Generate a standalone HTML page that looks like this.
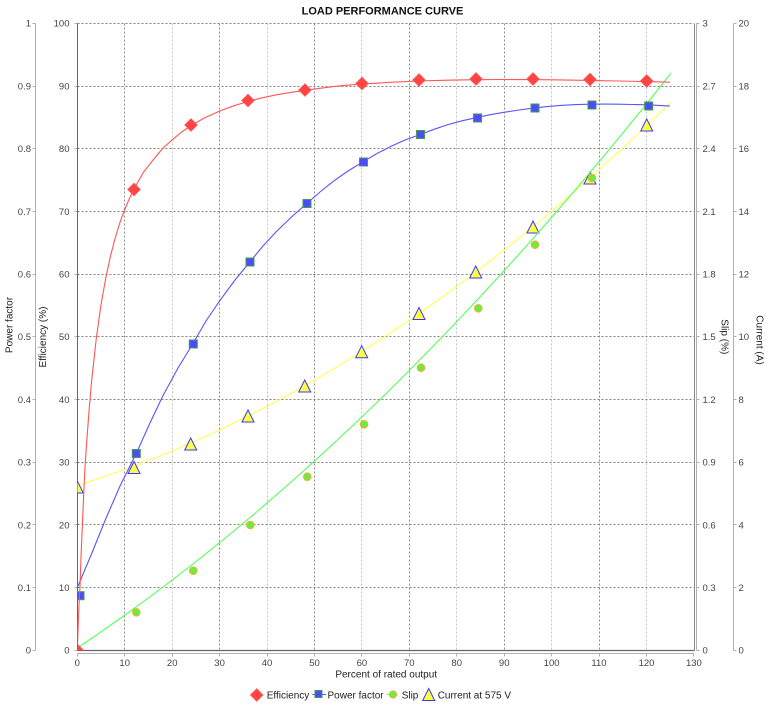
<!DOCTYPE html>
<html><head><meta charset="utf-8"><style>
html,body{margin:0;padding:0;background:#fff;}
svg{display:block;}
text{font-family:"Liberation Sans",sans-serif;}
</style></head><body>
<svg width="773" height="707" viewBox="0 0 773 707" xmlns="http://www.w3.org/2000/svg">
<defs><clipPath id="pc"><rect x="77.5" y="23.5" width="617" height="627"/></clipPath></defs>
<rect width="773" height="707" fill="#fff"/>
<text x="382.5" y="14.5" font-size="11" font-weight="bold" text-anchor="middle" fill="#111">LOAD PERFORMANCE CURVE</text>

<!-- vertical grid -->
<g stroke-width="1" stroke-dasharray="2,2" fill="none">
<path d="M124.5,23.5V650 M219.5,23.5V650 M314.5,23.5V650 M409.5,23.5V650 M504.5,23.5V650 M599.5,23.5V650" stroke="#8c8c8c"/>
<path d="M172.5,23.5V650 M267.5,23.5V650 M361.5,23.5V650 M456.5,23.5V650 M551.5,23.5V650 M646.5,23.5V650" stroke="#c4c4c4"/>
<path d="M77.5,23.5H694 M77.5,86.5H694 M77.5,148.5H694 M77.5,211.5H694 M77.5,274.5H694 M77.5,336.5H694 M77.5,399.5H694 M77.5,462.5H694 M77.5,524.5H694 M77.5,587.5H694" stroke="#808080"/>
</g>
<!-- plot border -->
<path d="M77.5,23.5V650.5" stroke="#666" stroke-width="1"/>
<path d="M694.5,23.5V650.5" stroke="#888" stroke-width="1"/>
<path d="M77.5,650.5H694.5" stroke="#666" stroke-width="1.2"/>

<!-- axes lines -->
<g stroke="#b0b0b0" stroke-width="1" fill="none">
<path d="M35.5,23.3V650.3"/>
<path d="M696.5,23.3V650.3"/>
<path d="M733.5,23.3V650.3"/>
<path d="M77.3,653.5H694"/>
<!-- ticks left PF -->
<path d="M32.5,23.5H35.5 M32.5,86.5H35.5 M32.5,148.5H35.5 M32.5,211.5H35.5 M32.5,274.5H35.5 M32.5,336.5H35.5 M32.5,399.5H35.5 M32.5,462.5H35.5 M32.5,524.5H35.5 M32.5,587.5H35.5 M32.5,650.5H35.5"/>
<path d="M74.5,23.5H77 M74.5,86.5H77 M74.5,148.5H77 M74.5,211.5H77 M74.5,274.5H77 M74.5,336.5H77 M74.5,399.5H77 M74.5,462.5H77 M74.5,524.5H77 M74.5,587.5H77 M74.5,650.5H77"/>
<path d="M696.5,23.5H699.5 M696.5,86.5H699.5 M696.5,148.5H699.5 M696.5,211.5H699.5 M696.5,274.5H699.5 M696.5,336.5H699.5 M696.5,399.5H699.5 M696.5,462.5H699.5 M696.5,524.5H699.5 M696.5,587.5H699.5 M696.5,650.5H699.5"/>
<path d="M733.5,23.5H736.5 M733.5,86.5H736.5 M733.5,148.5H736.5 M733.5,211.5H736.5 M733.5,274.5H736.5 M733.5,336.5H736.5 M733.5,399.5H736.5 M733.5,462.5H736.5 M733.5,524.5H736.5 M733.5,587.5H736.5 M733.5,650.5H736.5"/>
<path d="M77.5,653.5V656.5 M124.5,653.5V656.5 M172.5,653.5V656.5 M219.5,653.5V656.5 M267.5,653.5V656.5 M314.5,653.5V656.5 M361.5,653.5V656.5 M409.5,653.5V656.5 M456.5,653.5V656.5 M504.5,653.5V656.5 M551.5,653.5V656.5 M599.5,653.5V656.5 M646.5,653.5V656.5 M693.5,653.5V656.5"/>
</g>

<!-- tick labels -->
<g font-size="9.5" fill="#444">
<g text-anchor="end">
<text x="31" y="26.7">1</text><text x="31" y="89.4">0.9</text><text x="31" y="152.1">0.8</text><text x="31" y="214.8">0.7</text><text x="31" y="277.5">0.6</text><text x="31" y="340.2">0.5</text><text x="31" y="402.9">0.4</text><text x="31" y="465.6">0.3</text><text x="31" y="528.3">0.2</text><text x="31" y="591">0.1</text><text x="31" y="653.7">0</text>
<text x="69.5" y="26.7">100</text><text x="69.5" y="89.4">90</text><text x="69.5" y="152.1">80</text><text x="69.5" y="214.8">70</text><text x="69.5" y="277.5">60</text><text x="69.5" y="340.2">50</text><text x="69.5" y="402.9">40</text><text x="69.5" y="465.6">30</text><text x="69.5" y="528.3">20</text><text x="69.5" y="591">10</text><text x="69.5" y="653.7">0</text>
</g>
<g text-anchor="start">
<text x="702.5" y="26.7">3</text><text x="702.5" y="89.4">2.7</text><text x="702.5" y="152.1">2.4</text><text x="702.5" y="214.8">2.1</text><text x="702.5" y="277.5">1.8</text><text x="702.5" y="340.2">1.5</text><text x="702.5" y="402.9">1.2</text><text x="702.5" y="465.6">0.9</text><text x="702.5" y="528.3">0.6</text><text x="702.5" y="591">0.3</text><text x="702.5" y="653.7">0</text>
<text x="738.5" y="26.7">20</text><text x="738.5" y="89.4">18</text><text x="738.5" y="152.1">16</text><text x="738.5" y="214.8">14</text><text x="738.5" y="277.5">12</text><text x="738.5" y="340.2">10</text><text x="738.5" y="402.9">8</text><text x="738.5" y="465.6">6</text><text x="738.5" y="528.3">4</text><text x="738.5" y="591">2</text><text x="738.5" y="653.7">0</text>
</g>
<g text-anchor="middle">
<text x="77.3" y="666">0</text><text x="124.7" y="666">10</text><text x="172.2" y="666">20</text><text x="219.6" y="666">30</text><text x="267" y="666">40</text><text x="314.5" y="666">50</text><text x="361.9" y="666">60</text><text x="409.3" y="666">70</text><text x="456.7" y="666">80</text><text x="504.2" y="666">90</text><text x="551.6" y="666">100</text><text x="599" y="666">110</text><text x="646.5" y="666">120</text><text x="693.9" y="666">130</text>
</g>
</g>

<!-- axis labels -->
<g font-size="10" fill="#222" text-anchor="middle">
<text x="386.2" y="677.5">Percent of rated output</text>
<text transform="translate(12.5,325) rotate(-90)">Power factor</text>
<text transform="translate(46.2,337) rotate(-90)">Efficiency (%)</text>
<text transform="translate(721.3,336.8) rotate(90)">Slip (%)</text>
<text transform="translate(756.3,340) rotate(90)">Current (A)</text>
</g>

<g clip-path="url(#pc)">
<!-- Current (yellow) -->
<path d="M77.3,485.5 Q374,393.5 670.7,102.3" fill="none" stroke="#ffff55" stroke-width="1.1"/>
<g fill="#ffff44" stroke="#3838ff" stroke-width="1">
<polygon points="77.3,481 83.3,493 71.3,493"/>
<polygon points="134,461.5 140,473.5 128,473.5"/>
<polygon points="190.7,438 196.7,450 184.7,450"/>
<polygon points="248,410 254,422 242,422"/>
<polygon points="304.7,380 310.7,392 298.7,392"/>
<polygon points="361.7,345.7 367.7,357.7 355.7,357.7"/>
<polygon points="419,307.5 425,319.5 413,319.5"/>
<polygon points="475.7,266 481.7,278 469.7,278"/>
<polygon points="533,221 539,233 527,233"/>
<polygon points="590,172 596,184 584,184"/>
<polygon points="646.7,119 652.7,131 640.7,131"/>
</g>
<!-- Slip (green) -->
<path d="M77.3,648 Q374,449.8 670.7,73.5" fill="none" stroke="#55ff55" stroke-width="1.1"/>
<g fill="#66ee44" stroke="#ffaa33" stroke-width="1">
<circle cx="136.3" cy="612.3" r="3.8"/>
<circle cx="193.3" cy="570.7" r="3.8"/>
<circle cx="250.3" cy="525" r="3.8"/>
<circle cx="307.3" cy="476.7" r="3.8"/>
<circle cx="364" cy="424.3" r="3.8"/>
<circle cx="421" cy="367.7" r="3.8"/>
<circle cx="478.3" cy="308.3" r="3.8"/>
<circle cx="535" cy="244.7" r="3.8"/>
<circle cx="592" cy="178" r="3.8"/>
<circle cx="648.7" cy="106" r="3.8"/>
</g>
<!-- Power factor (blue) -->
<polyline fill="none" stroke="#5555ff" stroke-width="1.1" points="77.3,587.6 91.5,554 105.7,519 120,486 136.3,453.4 149.5,424 162.6,396.4 178,368 193.2,343.1 206,321 219.5,301.1 235,280 250.1,261.6 263,246 276.4,231.5 292,216.5 307,203.3 320,192 333.3,181.3 348,171 363.8,161.3 377,153.5 390.1,146.8 405,140 420.7,134.3 434,129.3 447,124.9 462,120.8 477.6,117.3 491,114.6 503.9,112.3 519,110 534.5,107.9 547,106.6 560.8,105.4 576,104.6 591.4,104.2 604,104.1 617.7,104.2 633,104.5 648.2,104.8 669.8,106.1"/>
<g fill="#4c4cff" stroke="#4a9a4a" stroke-width="1">
<rect x="76" y="591.7" width="8" height="8"/>
<rect x="132.3" y="449.5" width="8" height="8"/>
<rect x="189.3" y="340" width="8" height="8"/>
<rect x="246" y="258" width="8" height="8"/>
<rect x="303" y="199.5" width="8" height="8"/>
<rect x="359.5" y="158" width="8" height="8"/>
<rect x="416.5" y="130.5" width="8" height="8"/>
<rect x="473.5" y="114" width="8" height="8"/>
<rect x="531" y="104" width="8" height="8"/>
<rect x="588" y="101" width="8" height="8"/>
<rect x="644.7" y="102" width="8" height="8"/>
</g>
<!-- Efficiency (red) -->
<polyline fill="none" stroke="#ff5555" stroke-width="1.1" points="77.3,650.3 78.2,625 79,605 80,586.7 81,557 82.3,526.7 83.8,492 85.3,462 86.8,440.6 89.2,408.9 91.5,382 96.3,338.4 101,304.8 105.8,277.9 110.5,256 115.2,238 119.9,222.5 124.7,209.6 129.4,198.5 134.2,188.6 143.6,172 153.1,160 162.6,148.5 172.1,139.9 181.6,132 191.1,125.5 205.3,117.5 219.5,111.1 233.7,105.8 248,101.4 262.2,97.8 276.4,94.8 290.6,92.4 304.8,90.4 319,88.4 333.3,86.6 347.5,85.2 361.7,84.1 390,82.3 418.6,81 447,80.2 475.5,79.7 504,79.5 532.3,79.6 561,79.9 589.2,80.4 618,81 646.1,81.6 669.8,82.2"/>
<g fill="#ff4444" stroke="#ff5c5c" stroke-width="0.8">
<polygon points="77.3,644 83.6,650.3 77.3,656.6 71,650.3"/>
<polygon points="134,183.2 140.3,189.5 134,195.8 127.7,189.5"/>
<polygon points="191,118.7 197.3,125 191,131.3 184.7,125"/>
<polygon points="248,94.2 254.3,100.5 248,106.8 241.7,100.5"/>
<polygon points="305,83.7 311.3,90 305,96.3 298.7,90"/>
<polygon points="362,77.2 368.3,83.5 362,89.8 355.7,83.5"/>
<polygon points="419,73.7 425.3,80 419,86.3 412.7,80"/>
<polygon points="476,72.7 482.3,79 476,85.3 469.7,79"/>
<polygon points="533,72.7 539.3,79 533,85.3 526.7,79"/>
<polygon points="590,73.2 596.3,79.5 590,85.8 583.7,79.5"/>
<polygon points="646.7,74.7 653,81 646.7,87.3 640.4,81"/>
</g>
</g>

<!-- legend -->
<g font-size="10" fill="#222">
<polygon points="256.7,688.7 263,695 256.7,701.3 250.4,695" fill="#ff4444" stroke="#ff5c5c" stroke-width="0.8"/>
<text x="266.7" y="698.5">Efficiency</text>
<path d="M312.3,694.5H326" stroke="#5555ff" stroke-width="1.1"/>
<rect x="315" y="690.5" width="7" height="7" fill="#4c4cff" stroke="#4a9a4a" stroke-width="1"/>
<text x="327.5" y="698.5">Power factor</text>
<path d="M386.7,694.5H397.5" stroke="#55ff55" stroke-width="1.1"/>
<circle cx="393" cy="694.5" r="3.6" fill="#66ee44" stroke="#ffaa33" stroke-width="1"/>
<text x="401.7" y="698.5">Slip</text>
<polygon points="428.7,688.5 434.7,700.5 422.7,700.5" fill="#ffff44" stroke="#3838ff" stroke-width="1"/>
<text x="437.7" y="698.5">Current at 575 V</text>
</g>
</svg>
</body></html>
